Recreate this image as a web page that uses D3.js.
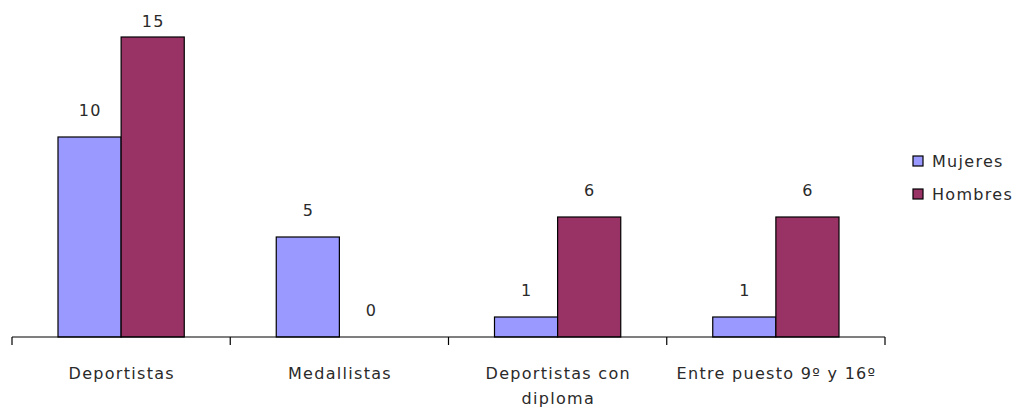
<!DOCTYPE html>
<html><head><meta charset="utf-8">
<script src="https://cdn.jsdelivr.net/npm/d3@7"></script>
<style>body{margin:0;background:#fff}svg{display:block}text{font-family:"DejaVu Sans",sans-serif;fill:#2a2a2a;letter-spacing:1.3px}</style>
</head><body>
<script>
const categories = [["Deportistas"],["Medallistas"],["Deportistas con","diploma"],["Entre puesto 9º y 16º"]];
const seriesNames = ["Mujeres","Hombres"];
const mujeres = [10,5,1,1];
const hombres = [15,0,6,6];
const colors = ["#9999FF","#993366"];

const W=1018,H=408;
const svg=d3.select("body").append("svg").attr("width",W).attr("height",H);
const x=d3.scaleBand().domain(d3.range(categories.length)).range([12,885]).paddingInner(0).paddingOuter(0);
const x1=d3.scaleBand().domain(seriesNames).range([46,x.bandwidth()-46]);
const y=d3.scaleLinear().domain([0,15]).range([337,37]);
const FS="16px";

const data=categories.map((c,i)=>({i,vals:[mujeres[i],hombres[i]]}));
const g=svg.append("g");
const grp=g.selectAll("g.c").data(data).join("g").attr("transform",d=>`translate(${x(d.i)},0)`);
seriesNames.forEach((s,k)=>{
  grp.append("rect").attr("x",x1(s)).attr("width",x1.bandwidth())
    .attr("y",d=>y(d.vals[k])).attr("height",d=>y(0)-y(d.vals[k]))
    .attr("fill",colors[k]).attr("stroke",d=>d.vals[k]>0?"#000":"none").attr("stroke-width",1.2);
  grp.append("text").attr("x",x1(s)+x1.bandwidth()/2+0.65)
    .attr("y",d=>Math.max(y(d.vals[k])-21,27)).attr("text-anchor","middle")
    .style("font-size",FS).text(d=>d.vals[k]);
});

// axis
const ax=svg.append("g");
ax.append("line").attr("x1",12).attr("x2",885).attr("y1",y(0)).attr("y2",y(0)).attr("stroke","#000").attr("stroke-width",1.2);
const ticks=d3.range(categories.length+1).map(i=>i<categories.length?x(i):x.range()[1]);
ax.selectAll("line.t").data(ticks).join("line").attr("x1",d=>d).attr("x2",d=>d).attr("y1",y(0)).attr("y2",y(0)+8).attr("stroke","#000").attr("stroke-width",1.2);
const lab=ax.selectAll("text.l").data(categories).join("text").attr("text-anchor","middle").style("font-size",FS);
lab.each(function(c,i){
  const t=d3.select(this);
  c.forEach((line,j)=>t.append("tspan").attr("x",x(i)+x.bandwidth()/2+0.65).attr("y",379+j*25).text(line));
});

// legend
const lg=svg.append("g");
seriesNames.forEach((s,k)=>{
  const yy=161+k*33;
  lg.append("rect").attr("x",913).attr("y",yy-5).attr("width",10).attr("height",10).attr("fill",colors[k]).attr("stroke","#000").attr("stroke-width",1.2);
  lg.append("text").attr("x",932).attr("y",yy+6).style("font-size",FS).text(s);
});
</script>
</body></html>
